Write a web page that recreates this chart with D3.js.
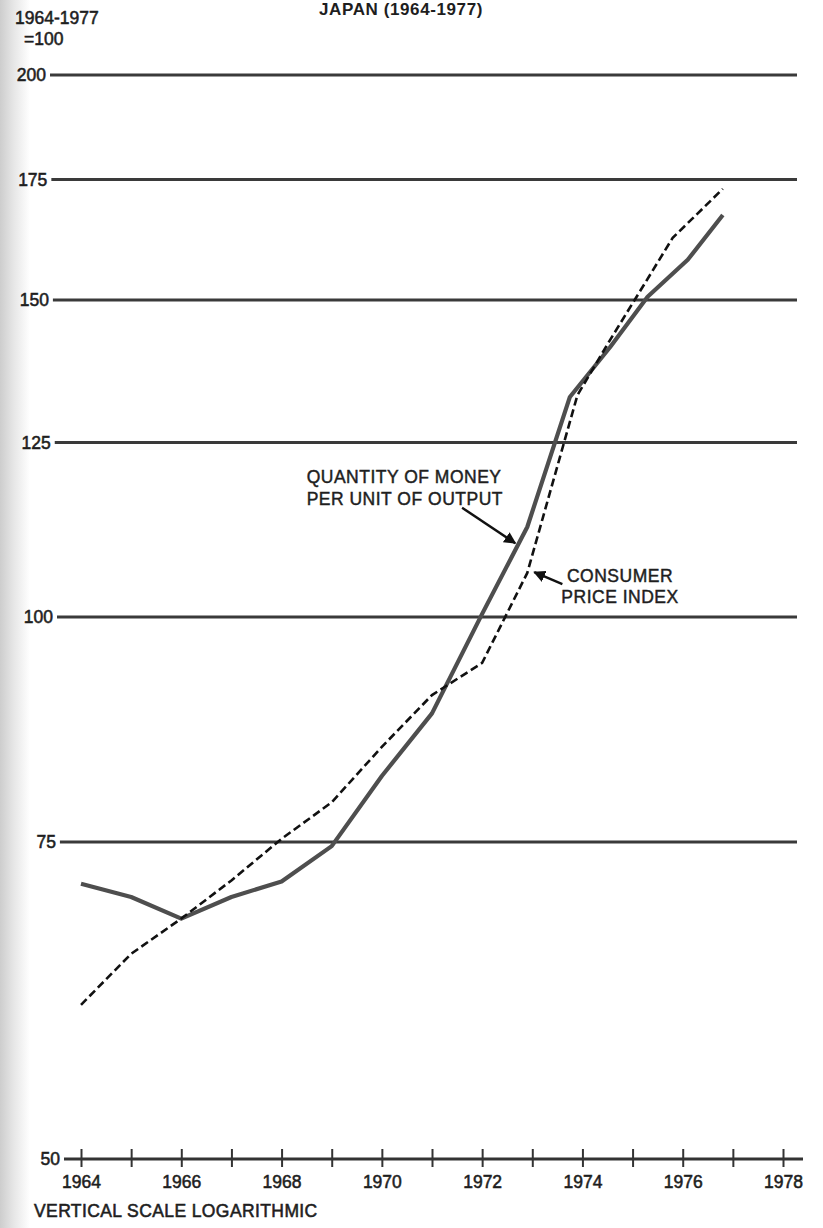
<!DOCTYPE html>
<html>
<head>
<meta charset="utf-8">
<script src="https://cdn.jsdelivr.net/npm/d3@7/dist/d3.min.js"></script>
<style>
  html, body { margin: 0; padding: 0; background: #fff; }
  svg { display: block; }
  text { font-family: "Liberation Sans", Arial, Helvetica, sans-serif; fill: #1e1e1e; }
</style>
</head>
<body>
<svg id="chart" width="823" height="1228"></svg>
<script>
// ---- data ----
const title = "JAPAN (1964-1977)";
const yTitle = ["1964-1977", "=100"];
const yTicks = [50, 75, 100, 125, 150, 175, 200];
const xTicks = [1964,1965,1966,1967,1968,1969,1970,1971,1972,1973,1974,1975,1976,1977,1978];
const xTickLabels = [1964,1966,1968,1970,1972,1974,1976,1978];

const moneyYears  = [1964,1965,1966,1967,1968,1969,1970,1971,1972,1972.9,1973.75,1974.55,1975.3,1976.1,1976.8];
const moneyValues = [71.1,69.9,68.0,69.9,71.3,74.6,81.6,88.4,100.4,112.2,132.5,141.2,150.6,157.9,167.2];

const cpiYears  = [1964,1965,1966,1967,1968,1969,1970,1971,1972,1972.9,1973.9,1974.55,1975.2,1975.8,1976.8];
const cpiValues = [60.9,65.0,68.0,71.4,75.3,78.9,84.7,90.5,94.3,105.8,132.8,142.5,152.5,162.4,172.9];

const moneyLabel = ["QUANTITY OF MONEY", "PER UNIT OF OUTPUT"];
const cpiLabel = ["CONSUMER", "PRICE INDEX"];
const footnote = "VERTICAL SCALE LOGARITHMIC";

// ---- scales ----
const svg = d3.select("#chart");
const x = d3.scaleLinear().domain([1964, 1978]).range([81, 783]);
const y = d3.scaleLog().domain([50, 200]).range([1159, 75]);

// page gutter shading at the left edge
const defs = svg.append("defs");
const grad = defs.append("linearGradient").attr("id", "gutter").attr("x1", 0).attr("x2", 1);
grad.append("stop").attr("offset", "0%").attr("stop-color", "#cdcdcd");
grad.append("stop").attr("offset", "45%").attr("stop-color", "#e6e6e6");
grad.append("stop").attr("offset", "100%").attr("stop-color", "#ffffff");
svg.append("rect").attr("x", 0).attr("y", 0).attr("width", 30).attr("height", 1228).attr("fill", "url(#gutter)");

defs.append("marker").attr("id", "arrow")
  .attr("viewBox", "0 0 10 10").attr("refX", 9).attr("refY", 5)
  .attr("markerWidth", 5).attr("markerHeight", 5).attr("orient", "auto")
  .append("path").attr("d", "M0,0 L10,5 L0,10 z").attr("fill", "#111");

// slight skew of the printed page: labels drift right lower down
const skew = v => (1159 - y(v)) / 1084;
const labelRight = v => 60 - 14 * skew(v);

const ink = sel => sel.attr("stroke", "#1e1e1e").attr("stroke-width", 0.55);

// ---- horizontal grid lines & y labels ----
const grid = svg.append("g");
grid.selectAll("line.grid").data(yTicks.filter(v => v !== 50)).join("line")
  .attr("class", "grid")
  .attr("x1", v => labelRight(v) + 4).attr("x2", 797)
  .attr("y1", v => y(v)).attr("y2", v => y(v))
  .attr("stroke", "#3a3a3a").attr("stroke-width", 3);

grid.selectAll("text.ylab").data(yTicks).join("text")
  .attr("class", "ylab")
  .attr("x", v => labelRight(v))
  .attr("y", v => y(v))
  .attr("dy", "0.36em")
  .attr("text-anchor", "end")
  .attr("font-size", 17.5)
  .call(ink)
  .text(d => d);

// ---- x axis (at 50) ----
const xAxis = svg.append("g").attr("transform", `translate(0,${y(50)})`)
  .call(d3.axisBottom(x).tickValues(xTicks).tickSize(0).tickFormat(""));
xAxis.select(".domain").remove();
xAxis.append("line").attr("x1", 64).attr("x2", 803).attr("y1", 0).attr("y2", 0)
  .attr("stroke", "#333").attr("stroke-width", 3);
xAxis.selectAll(".tick").append("line")
  .attr("y1", -10).attr("y2", 8).attr("stroke", "#333").attr("stroke-width", 2);
xAxis.selectAll(".tick").filter(d => xTickLabels.includes(d)).append("text")
  .attr("y", 29).attr("text-anchor", "middle")
  .attr("font-size", 17.5).attr("fill", "#1e1e1e")
  .call(ink)
  .text(d => d);

// ---- series ----
const moneyData = moneyYears.map((yr, i) => ({yr, v: moneyValues[i]}));
const cpiData = cpiYears.map((yr, i) => ({yr, v: cpiValues[i]}));
const line = d3.line().x(d => x(d.yr)).y(d => y(d.v));

svg.append("path").datum(moneyData).attr("d", line)
  .attr("fill", "none").attr("stroke", "#4e4e4e").attr("stroke-width", 4.2)
  .attr("stroke-linejoin", "round");
svg.append("path").datum(cpiData).attr("d", line)
  .attr("fill", "none").attr("stroke", "#111").attr("stroke-width", 2.6)
  .attr("stroke-dasharray", "8,4");

// ---- titles ----
svg.append("text").attr("x", 401).attr("y", 15).attr("text-anchor", "middle")
  .attr("font-size", 17).attr("font-weight", "bold").attr("letter-spacing", 0.6)
  .text(title);
svg.append("text").attr("x", 15).attr("y", 24).attr("font-size", 17.5)
  .call(ink).text(yTitle[0]);
svg.append("text").attr("x", 24).attr("y", 45).attr("font-size", 17.5)
  .call(ink).text(yTitle[1]);

// ---- annotations (positioned in data space) ----
const ann = svg.append("g").attr("font-size", 17.5).attr("letter-spacing", 0.5)
  .attr("stroke", "#1e1e1e").attr("stroke-width", 0.45);
ann.append("text").attr("x", x(1968.5)).attr("y", y(118.7)).text(moneyLabel[0]);
ann.append("text").attr("x", x(1968.5)).attr("y", y(118.7) + 22).text(moneyLabel[1]);
svg.append("line")
  .attr("x1", x(1971.6)).attr("y1", y(115.0))
  .attr("x2", x(1972.66)).attr("y2", y(109.9))
  .attr("stroke", "#111").attr("stroke-width", 2.4).attr("marker-end", "url(#arrow)");

ann.append("text").attr("x", x(1974.75)).attr("y", y(104.6)).attr("text-anchor", "middle").text(cpiLabel[0]);
ann.append("text").attr("x", x(1974.75)).attr("y", y(104.6) + 21).attr("text-anchor", "middle").text(cpiLabel[1]);
svg.append("line")
  .attr("x1", x(1973.6)).attr("y1", y(104.3))
  .attr("x2", x(1973.04)).attr("y2", y(105.9))
  .attr("stroke", "#111").attr("stroke-width", 2.4).attr("marker-end", "url(#arrow)");

// ---- footnote ----
svg.append("text").attr("x", 34).attr("y", 1217).attr("font-size", 17.5)
  .attr("letter-spacing", 0.4)
  .call(ink).text(footnote);
</script>
</body>
</html>
